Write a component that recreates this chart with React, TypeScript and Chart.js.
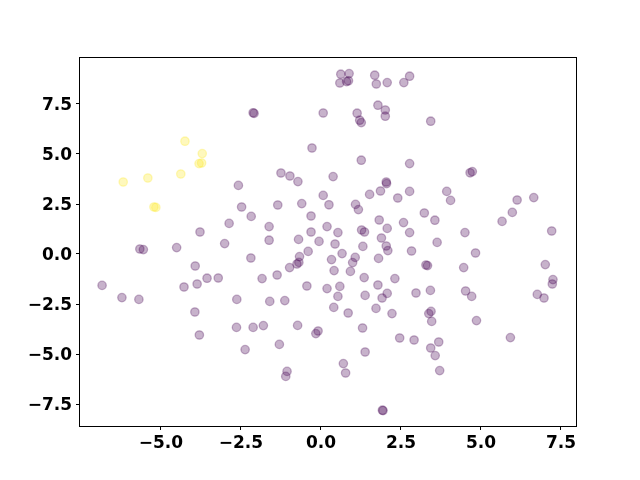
import React, { useEffect, useRef } from "react";
import { Chart, registerables } from "chart.js";
Chart.register(...registerables);

// Cluster 0 (purple)
const purpleX = [
  -2.12, -2.09, 0.07, -0.28, -1.25, -0.97, -0.72, -2.58,
  0.62, 0.88, 0.59, 0.8, 0.86, 1.68, 1.73, 2.07, 2.59, 2.77,
  1.78, 2.01, 2.01, 1.13, 1.21, 1.26, 3.43, 1.26, 2.77, 0.38, 2.04,
  4.66, 4.73, -3.78, -5.66, -5.55, -4.51, -3.93, -6.84, -6.22, -5.69,
  -4.28, -3.87, -3.56, 0.07, 0.25, -2.48, -1.35, -0.6, -2.18, -0.31,
  -2.87, -1.62, 0.19, -0.31, -3.01, -1.62, -0.7, -0.06, -0.4, -0.67,
  -0.75, -0.69, -0.98, -2.19, -3.21, -1.84, -1.37, -0.44, 0.19, -2.63,
  -1.6, -1.13, 2.05, 1.86, 1.52, 2.4, 2.77, 3.93, 4.05, 1.08, 1.17,
  3.23, 3.56, 1.82, 2.58, 2.07, 0.53, 1.27, 1.36, 2.77, 0.44, 1.31,
  1.89, 2.04, 2.09, 2.83, 3.63, 0.66, 1.07, 0.99, 0.92, 0.33, 0.41,
  1.8, 3.28, 3.33, 1.35, 2.31, 1.78, 2.07, 1.91, 1.38, 0.59, 0.53,
  2.97, 3.42, 6.13, 6.65, 5.98, 5.66, 4.5, 7.21, 4.83, 4.46, 7.01,
  7.25, 7.23, 4.52, 4.71, 6.76, 6.97, -3.94, -3.8, -2.64, -2.12, -1.8,
  -0.73, -0.09, -0.16, -2.37, -1.3, -1.06, -1.1, 0.4, 0.85, 1.72, 2.22,
  3.44, 3.37, 3.46, 1.3, 2.46, 2.91, 3.68, 3.43, 3.57, 1.38, 0.7, 0.77,
  3.71, 1.92, 1.94, 4.86, 5.92,
];
const purpleY = [
  7.06, 7.03, 7.05, 5.3, 4.05, 3.9, 3.62, 3.43,
  8.99, 9.02, 8.55, 8.62, 8.66, 8.94, 8.5, 8.57, 8.57, 8.89,
  7.44, 7.2, 6.89, 7.04, 6.69, 6.57, 6.64, 4.69, 4.52, 3.87, 3.6,
  4.06, 4.12, 1.1, 0.25, 0.22, 0.32, -0.6, -1.57, -2.18, -2.27,
  -1.65, -1.5, -1.21, 2.93, 2.46, 2.35, 2.45, 2.52, 1.88, 1.9,
  1.53, 1.37, 1.37, 1.1, 0.52, 0.69, 0.73, 0.63, 0.13, -0.13,
  -0.5, -0.42, -0.68, -0.2, -1.2, -1.23, -1.05, -1.6, -1.73, -2.27,
  -2.37, -2.33, 3.52, 3.15, 2.98, 2.8, 3.13, 3.13, 2.68, 2.48, 2.22,
  2.05, 1.69, 1.7, 1.57, 1.28, 1.07, 1.2, 1.1, 1.07, 0.5, 0.38,
  0.8, 0.4, 0.17, 0.15, 0.58, 0.02, -0.17, -0.43, -0.87, -0.28, -0.83,
  -0.22, -0.55, -0.58, -1.18, -1.23, -1.55, -1.97, -2.2, -2.07, -1.62, -2.12,
  -1.95, -1.82, 2.7, 2.82, 2.08, 1.63, 1.07, 1.15, 0.05, -0.68, -0.53,
  -1.28, -1.5, -1.85, -2.12, -2.02, -2.2, -2.9, -4.05, -3.67, -3.67, -3.58,
  -3.57, -3.85, -3.98, -4.78, -4.52, -5.87, -6.12, -2.67, -2.95, -2.72, -2.98,
  -2.87, -2.98, -3.37, -3.7, -4.2, -4.3, -4.4, -4.7, -5.08, -4.9, -5.48, -5.95,
  -5.83, -7.81, -7.83, -3.33, -4.18,
];

// Cluster 1 (yellow)
const yellowX = [-4.25, -3.71, -3.81, -3.73, -4.38, -5.41, -6.18, -5.22, -5.16];
const yellowY = [5.64, 5.02, 4.52, 4.55, 4.0, 3.8, 3.6, 2.35, 2.33];

const xTicks = [-5, -2.5, 0, 2.5, 5, 7.5];
const yTicks = [-7.5, -5, -2.5, 0, 2.5, 5, 7.5];
const xMin = -7.53, xMax = 7.97;
const yMin = -8.6, yMax = 9.8;

const fmt = (v: number) => v.toFixed(1).replace("-", "\u2212");

const boxPlugin = {
  id: "box",
  afterDraw(chart: any) {
    const { ctx, chartArea } = chart;
    ctx.save();
    ctx.strokeStyle = "#000";
    ctx.lineWidth = 1;
    ctx.strokeRect(
      Math.round(chartArea.left) - 0.5,
      Math.round(chartArea.top) - 0.5,
      Math.round(chartArea.right - chartArea.left) + 1,
      Math.round(chartArea.bottom - chartArea.top) + 1
    );
    ctx.restore();
  },
};

export default function App() {
  const ref = useRef<HTMLCanvasElement>(null);
  useEffect(() => {
    if (!ref.current) return;
    const toPts = (xs: number[], ys: number[]) => xs.map((x, i) => ({ x, y: ys[i] }));
    const tickFont = { family: "DejaVu Sans", size: 17, weight: "bold" as const };
    const chart = new Chart(ref.current, {
      type: "scatter",
      data: {
        datasets: [
          {
            data: toPts(purpleX, purpleY),
            backgroundColor: "rgba(68,1,84,0.3)",
            borderColor: "rgba(68,1,84,0.3)",
            borderWidth: 1.3,
            pointRadius: 4.2,
          },
          {
            data: toPts(yellowX, yellowY),
            backgroundColor: "rgba(253,231,37,0.3)",
            borderColor: "rgba(253,231,37,0.3)",
            borderWidth: 1.3,
            pointRadius: 4.2,
          },
        ],
      },
      options: {
        responsive: false,
        animation: false,
        layout: { padding: { left: 0, right: 64, top: 58, bottom: 0 } },
        plugins: { legend: { display: false }, tooltip: { enabled: false } },
        scales: {
          x: {
            type: "linear",
            min: xMin,
            max: xMax,
            afterBuildTicks: (s: any) => {
              s.ticks = xTicks.map((v) => ({ value: v }));
            },
            afterFit: (s: any) => {
              s.height = 54;
            },
            grid: { display: true, drawOnChartArea: false, drawTicks: true, tickLength: 4, color: "#000", lineWidth: 1 },
            border: { display: false },
            ticks: { color: "#000", font: tickFont, padding: 3, maxRotation: 0, autoSkip: false, callback: (v: any) => fmt(Number(v)) },
          },
          y: {
            type: "linear",
            min: yMin,
            max: yMax,
            afterBuildTicks: (s: any) => {
              s.ticks = yTicks.map((v) => ({ value: v }));
            },
            afterFit: (s: any) => {
              s.width = 80;
            },
            grid: { display: true, drawOnChartArea: false, drawTicks: true, tickLength: 4, color: "#000", lineWidth: 1 },
            border: { display: false },
            ticks: { color: "#000", font: tickFont, padding: 4, labelOffset: 2, autoSkip: false, callback: (v: any) => fmt(Number(v)) },
          },
        },
      },
      plugins: [boxPlugin],
    });
    return () => chart.destroy();
  }, []);
  return (
    <div style={{ position: "absolute", left: 0, top: 0, width: 640, height: 480, background: "#fff" }}>
      <canvas ref={ref} width={640} height={480} />
    </div>
  );
}
